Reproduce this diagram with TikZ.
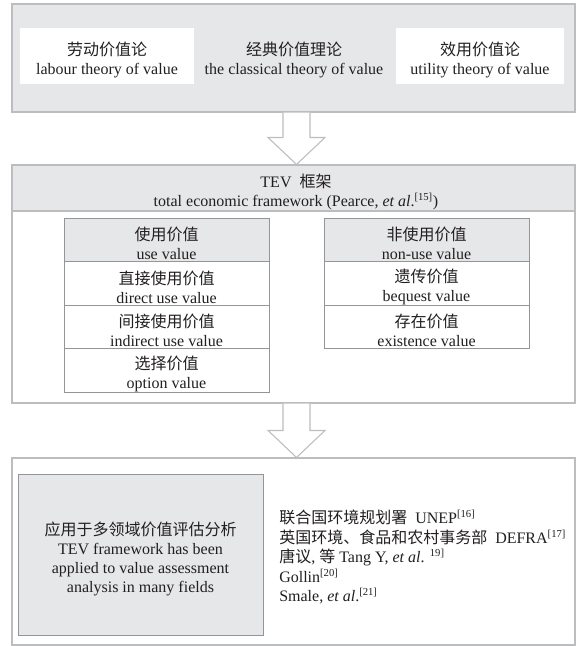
\documentclass[tikz,border=0pt]{standalone}
\usepackage{fontspec}
\setmainfont{Liberation Serif}
\newfontfamily\cjk{Noto Sans CJK SC}
\usetikzlibrary{calc,fit}
\definecolor{panelgray}{HTML}{E6E7E8}
\definecolor{framegray}{HTML}{BCBDBF}
\definecolor{cellline}{HTML}{939598}
\definecolor{ink}{HTML}{231F20}
\newcommand{\zh}[1]{{\cjk #1}}
\begin{document}
\begin{tikzpicture}[x=0.75pt, y=-0.75pt,
  font=\fontsize{12}{14.25}\selectfont, text=ink,
  panel/.style={draw=framegray, line width=0.8pt, fill=panelgray, inner sep=0pt},
  framebox/.style={draw=framegray, line width=0.8pt, fill=white, inner sep=0pt},
  whitebox/.style={fill=white, inner sep=0pt},
  cell/.style={draw=cellline, line width=0.6pt, fill=white, inner sep=0pt},
  headcell/.style={cell, fill=panelgray},
  graybox/.style={draw=cellline, line width=0.6pt, fill=panelgray, inner sep=0pt},
  blockarrow/.style={draw=framegray, line width=0.8pt, fill=white, line join=miter},
  txt/.style={align=center, inner sep=0pt, yshift=-3pt}]
\useasboundingbox (0,0) rectangle (576,646);
\coordinate (ax) at (296.5,0);

% top panel
\node[panel, fit={(12,4) (575,112)}] (top) {};
\node[whitebox, fit={(20,28) (194,84)}] (labour) {};
\node[whitebox, fit={(396,28) (564,84)}] (utility) {};
\node[txt] (labourtxt) at (labour.center) {\zh{劳动价值论}\\labour theory of value};
\node[txt] (classical) at (294,56) {\zh{经典价值理论}\\the classical theory of value};
\node[txt] (utilitytxt) at (utility.center) {\zh{效用价值论}\\utility theory of value};

% TEV panel
\node[framebox, fit={(12,165) (575,403)}] (tev) {};
\node[panel, fit={(12,165) (575,211)}] (tevhead) {};
\node[txt] (tevtitle) at (296,187.5) {TEV\enspace\zh{框架}\\total economic framework (Pearce, \textit{et al}.\textsuperscript{[15]})};

% use value column
\node[headcell, fit={(64,218) (269,261.5)}] (use) {};
\node[cell, fit={(64,261.5) (269,305)}] (direct) {};
\node[cell, fit={(64,305) (269,348.5)}] (indirect) {};
\node[cell, fit={(64,348.5) (269,392)}] (option) {};
\node[txt] (usetxt) at (use.center) {\zh{使用价值}\\use value};
\node[txt] (directtxt) at (direct.center) {\zh{直接使用价值}\\direct use value};
\node[txt] (indirecttxt) at (indirect.center) {\zh{间接使用价值}\\indirect use value};
\node[txt] (optiontxt) at (option.center) {\zh{选择价值}\\option value};

% non-use value column
\node[headcell, fit={(324,218) (529,261.5)}] (nonuse) {};
\node[cell, fit={(324,261.5) (529,305)}] (bequest) {};
\node[cell, fit={(324,305) (529,348.5)}] (existence) {};
\node[txt] (nonusetxt) at (nonuse.center) {\zh{非使用价值}\\non-use value};
\node[txt] (bequesttxt) at (bequest.center) {\zh{遗传价值}\\bequest value};
\node[txt] (existencetxt) at (existence.center) {\zh{存在价值}\\existence value};

% bottom panel
\node[framebox, fit={(12,458) (575,645)}] (apply) {};
\node[graybox, fit={(18,474) (263,635)}] (applybox) {};
\node[txt] (applytxt) at (applybox.center) {\zh{应用于多领域价值评估分析}\\TEV framework has been\\applied to value assessment\\analysis in many fields};
\node[anchor=west, align=left, inner sep=0pt, font=\fontsize{12}{14.6}\selectfont] (refs) at (279,557)
  {\zh{联合国环境规划署}\enspace UNEP\textsuperscript{[16]}\\
   \zh{英国环境、食品和农村事务部}\enspace DEFRA\textsuperscript{[17]}\\
   \zh{唐议}, \zh{等} Tang Y, \textit{et al}. \textsuperscript{19]}\\
   Gollin\textsuperscript{[20]}\\
   Smale, \textit{et al}.\textsuperscript{[21]}};

% block arrows
\draw[blockarrow] ($(ax |- top.south)+(-13.5,0)$) -- ($(ax |- tev.north)+(-13.5,-27)$)
  -- ($(ax |- tev.north)+(-28.5,-27)$) -- (ax |- tev.north)
  -- ($(ax |- tev.north)+(28.5,-27)$) -- ($(ax |- tev.north)+(13.5,-27)$)
  -- ($(ax |- top.south)+(13.5,0)$);
\draw[blockarrow] ($(ax |- tev.south)+(-13.5,0)$) -- ($(ax |- apply.north)+(-13.5,-27)$)
  -- ($(ax |- apply.north)+(-28.5,-27)$) -- (ax |- apply.north)
  -- ($(ax |- apply.north)+(28.5,-27)$) -- ($(ax |- apply.north)+(13.5,-27)$)
  -- ($(ax |- tev.south)+(13.5,0)$);
\end{tikzpicture}
\end{document}
